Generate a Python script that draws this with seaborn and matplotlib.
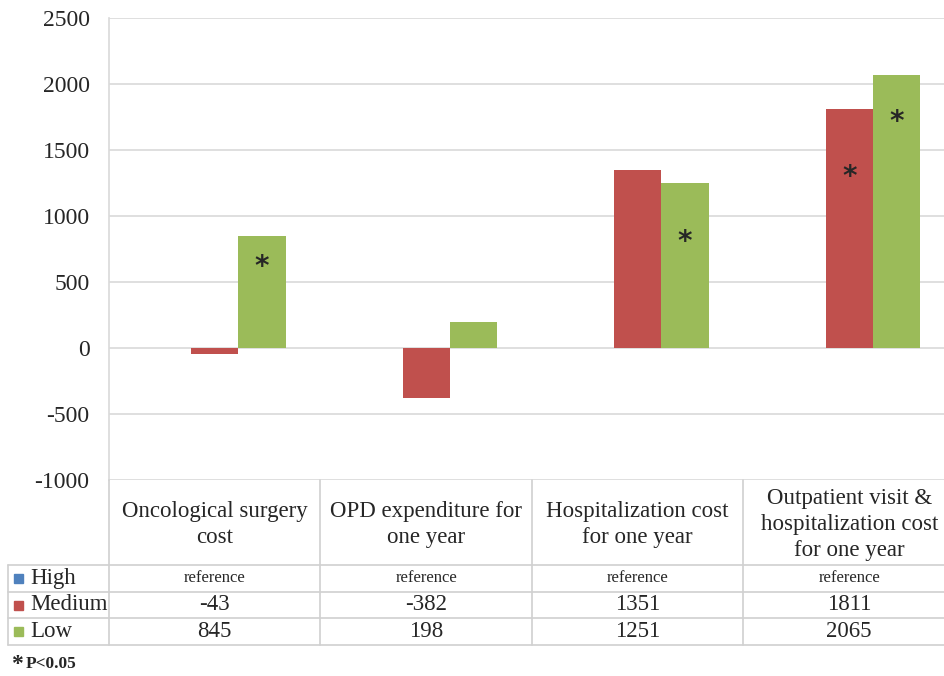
import pandas as pd
import seaborn as sns
import matplotlib.pyplot as plt
from matplotlib.lines import Line2D
from matplotlib.patches import Rectangle

# data
categories = ["Oncological surgery\ncost",
              "OPD expenditure for\none year",
              "Hospitalization cost\nfor one year",
              "Outpatient visit &\nhospitalization cost\nfor one year"]
groups = ["High", "Medium", "Low"]
high = [0, 0, 0, 0]          # reference group
medium = [-43, -382, 1351, 1811]
low = [845, 198, 1251, 2065]
high_text = ["reference"] * 4
# significant bars (category index, group, y of the star)
stars = [(0, "Low", 615), (2, "Low", 805), (3, "Medium", 1295), (3, "Low", 1715)]
colors = {"High": "#4F81BD", "Medium": "#C0504D", "Low": "#9BBB59"}

sns.set_style("white")
plt.rcParams['font.family'] = ['Liberation Serif', 'DejaVu Serif']
plt.rcParams['axes.unicode_minus'] = False

W, H = 945, 676
fig = plt.figure(figsize=(W / 100, H / 100), dpi=100)

def fx(x):
    return x / W

def fy(y):
    return 1 - y / H

# plot area in pixels (runs a little past the right edge, as in the source)
left, right, top, bottom = 109, 955, 18, 480
ax = fig.add_axes([fx(left), fy(bottom), fx(right - left), (bottom - top) / H])

df = pd.DataFrame({
    "category": [c for g in groups for c in categories],
    "group": [g for g in groups for c in categories],
    "value": high + medium + low,
})

sns.barplot(data=df, x="category", y="value", hue="group", order=categories,
            hue_order=groups, palette=colors, width=0.67, saturation=1,
            legend=False, ax=ax, linewidth=0)

ax.set_ylim(-1000, 2500)
ax.set_xlim(-0.5, 3.5)
ax.set_yticks(range(-1000, 2501, 500))
ax.yaxis.grid(True, color="#D9D9D9", linewidth=1.2)
ax.set_axisbelow(True)
ax.set_xticks([])
ax.set_xlabel("")
ax.set_ylabel("")
ax.tick_params(axis="y", labelsize=17, length=0, pad=14)
for s in ["top", "right", "bottom"]:
    ax.spines[s].set_visible(False)
ax.spines["left"].set_color("#D9D9D9")
ax.spines["left"].set_linewidth(1.2)

# significance stars
for ci, g, y in stars:
    p = ax.containers[groups.index(g)][ci]
    ax.text(p.get_x() + p.get_width() / 2, y, "*", ha="center", va="center",
            fontsize=20, family="DejaVu Sans", fontweight="bold")

# data table under the chart
lc = "#D0D0D0"
step = (right - left) / 4
cols = [left + i * step for i in range(5)]
rows = [480, 565, 592, 618, 645]

def hline(y, x0, x1):
    fig.add_artist(Line2D([fx(x0), fx(x1)], [fy(y), fy(y)], color=lc, lw=1.2))

def vline(x, y0, y1):
    fig.add_artist(Line2D([fx(x), fx(x)], [fy(y0), fy(y1)], color=lc, lw=1.2))

for y in rows[1:]:
    hline(y, 8, 945)
for x in cols[:-1]:
    vline(x, rows[0], rows[-1])
vline(8, rows[1], rows[-1])

centers = [(cols[i] + cols[i + 1]) / 2 for i in range(4)]
for i, c in enumerate(categories):
    fig.text(fx(centers[i]), fy((rows[0] + rows[1]) / 2 + 2), c, ha="center",
             va="center", fontsize=16.5, linespacing=1.3)

row_text = [high_text,
            [str(v) for v in medium],
            [str(v) for v in low]]
for r, g in enumerate(groups):
    yc = (rows[r + 1] + rows[r + 2]) / 2
    fig.add_artist(Rectangle((fx(14), fy(yc + 4.5)), fx(9), 9 / H,
                             color=colors[g], transform=fig.transFigure))
    fig.text(fx(30), fy(yc), g, ha="left", va="center", fontsize=16.5)
    for i in range(4):
        fs = 12 if r == 0 else 16.5
        fig.text(fx(centers[i]), fy(yc), row_text[r][i], ha="center",
                 va="center", fontsize=fs)

fig.text(fx(11), fy(664), "*", ha="left", va="center", fontsize=17,
         fontweight="bold")
fig.text(fx(26), fy(664), "P<0.05", ha="left", va="center", fontsize=12.5,
         fontweight="bold")

fig.savefig("out.png", dpi=100)
